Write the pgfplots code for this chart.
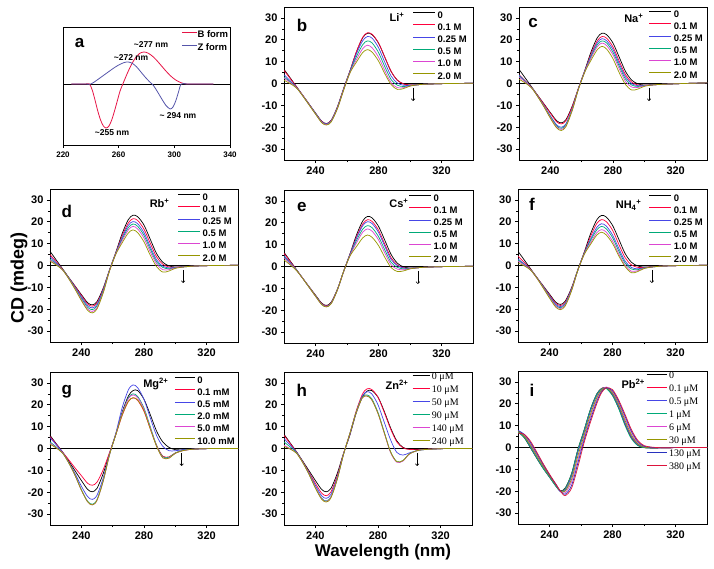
\documentclass[border=0pt]{standalone}
\usepackage{pgfplots}
\pgfplotsset{compat=1.18}
\usepackage{pgfplotstable}
\usepackage{fontspec}
\setmainfont{Liberation Sans}
\newfontfamily\seriffont{Liberation Serif}
\usetikzlibrary{arrows.meta}

\definecolor{cK}{RGB}{0,0,0}
\definecolor{cR}{RGB}{255,0,60}
\definecolor{cB}{RGB}{70,70,230}
\definecolor{cG}{RGB}{0,170,120}
\definecolor{cM}{RGB}{220,70,210}
\definecolor{cO}{RGB}{150,150,0}
\definecolor{cN}{RGB}{40,50,190}
\definecolor{cC}{RGB}{220,20,60}
\definecolor{aR}{RGB}{230,20,70}
\definecolor{aB}{RGB}{85,85,170}

\pgfplotstableread{
x    c0    c1    c2    c3    c4    c5
220  6.5   6.0   4.0   3.0   2.5   1.5
224  2.5   2.2   1.2   0.7   0.4  -0.1
228 -1.5  -1.6  -1.8  -1.9  -2.0  -2.1
232 -5.5  -5.5  -5.6  -5.7  -5.7  -5.8
236 -9.5  -9.5  -9.6  -9.7  -9.8  -9.9
240 -13.5 -13.6 -13.6 -13.8 -13.9 -14.0
244 -17.3 -17.4 -17.5 -17.7 -17.8 -18.0
247 -18.3 -18.4 -18.5 -18.7 -18.8 -19.0
250 -16.8 -16.9 -17.0 -17.2 -17.3 -17.5
254 -10.5 -10.6 -10.8 -11.0 -11.2 -11.4
258 -2.0  -2.0  -2.2  -2.4  -2.6  -2.8
262  6.0   6.0   5.8   5.5   5.2   5.0
266 14.5  14.6  13.6  12.3  11.0   9.8
270 21.0  21.2  19.6  17.8  16.0  14.2
273 23.0  23.2  21.5  19.5  17.5  15.5
276 22.3  22.5  20.7  18.5  16.3  14.3
280 18.5  18.6  16.4  14.2  12.1  10.3
284 12.0  12.1   9.7   7.7   5.9   4.5
288  5.5   5.6   3.4   1.8   0.4  -0.5
292  1.5   1.5   0.2  -0.8  -1.9  -2.7
296 -0.2  -0.2  -0.8  -1.4  -1.9  -2.3
300 -0.7  -0.7  -0.85 -1.0  -1.1  -1.2
306 -0.5  -0.5  -0.5  -0.5  -0.5  -0.5
314 -0.2  -0.2  -0.2  -0.2  -0.2  -0.2
325  0.0   0.0   0.0   0.0   0.0   0.0
340  0.1   0.1   0.1   0.1   0.1   0.1
}\tabB

\pgfplotstableread{
x    c0    c1    c2    c3    c4    c5
220  6.5   4.0   3.8   3.5   3.0   2.0
224  2.5   1.2   1.1   0.9   0.7   0.2
228 -1.5  -1.8  -1.8  -1.9  -1.9  -2.0
232 -5.5  -5.5  -5.8  -5.9  -6.0  -6.1
236 -9.4  -9.6 -10.2 -10.4 -10.6 -10.8
240 -13.3 -13.6 -14.8 -15.1 -15.5 -15.9
244 -17.0 -17.5 -18.9 -19.4 -19.9 -20.3
247 -18.0 -18.5 -20.0 -20.5 -21.0 -21.5
250 -16.5 -17.0 -18.4 -18.8 -19.3 -19.7
254 -10.3 -10.6 -11.5 -11.8 -12.1 -12.3
258 -2.0  -2.0  -2.2  -2.3  -2.4  -2.5
262  6.0   5.8   5.7   5.5   5.4   5.2
266 14.5  13.6  12.9  12.3  11.7  10.7
270 21.0  19.6  18.7  17.8  16.9  15.5
273 23.0  21.5  20.5  19.5  18.5  17.0
276 22.3  20.7  19.5  18.5  17.3  15.7
280 18.5  16.7  15.5  14.3  13.1  11.3
284 12.0  10.2   9.0   7.9   6.7   4.9
288  5.5   4.0   3.0   2.0   0.9  -0.5
292  1.5   0.6  -0.1  -0.75 -1.65 -3.0
296 -0.2  -0.7  -1.0  -1.35 -1.8  -2.5
300 -0.7  -0.8  -0.9  -1.0  -1.1  -1.3
306 -0.5  -0.6  -0.6  -0.6  -0.6  -0.6
314 -0.3  -0.3  -0.3  -0.3  -0.3  -0.3
325  0.0   0.0   0.0   0.0   0.0   0.0
340  0.3   0.3   0.3   0.3   0.3   0.3
}\tabC

\pgfplotstableread{
x    c0    c1    c2    c3    c4    c5
220  6.5   5.0   4.0   3.0   2.5   2.0
224  2.5   1.7   1.2   0.7   0.4   0.2
228 -1.5  -1.7  -1.8  -1.9  -2.0  -2.0
232 -5.5  -5.6  -5.7  -5.8  -6.0  -6.1
236 -9.4  -9.6 -10.0 -10.3 -10.6 -10.9
240 -13.3 -13.7 -14.3 -14.9 -15.5 -16.0
244 -17.0 -17.6 -18.3 -19.1 -19.9 -20.5
247 -18.0 -18.6 -19.4 -20.2 -21.0 -21.7
250 -16.5 -17.1 -17.8 -18.5 -19.3 -19.9
254 -10.3 -10.7 -11.1 -11.6 -12.1 -12.5
258 -2.0  -2.0  -2.1  -2.2  -2.4  -2.5
262  6.0   5.8   5.6   5.5   5.3   5.1
266 14.5  13.5  12.7  12.0  11.3  10.3
270 21.0  19.5  18.4  17.3  16.3  14.9
273 23.0  21.4  20.1  19.0  17.9  16.3
276 22.3  20.6  19.1  17.9  16.7  15.0
280 18.5  16.6  15.0  13.8  12.5  10.8
284 12.0  10.2   8.6   7.5   6.2   4.7
288  5.5   4.0   2.6   1.7   0.8  -0.5
292  1.5   0.6  -0.3  -0.9  -1.9  -3.0
296 -0.2  -0.7  -1.1  -1.5  -1.9  -2.5
300 -0.7  -0.8  -0.9  -1.0  -1.1  -1.3
306 -0.5  -0.5  -0.5  -0.6  -0.6  -0.6
314 -0.2  -0.2  -0.2  -0.2  -0.2  -0.2
325  0.0   0.0   0.0   0.0   0.0   0.0
340  0.1   0.1   0.1   0.1   0.1   0.1
}\tabD

\pgfplotstableread{
x    c0    c1    c2    c3    c4    c5
220  6.5   6.0   5.0   4.5   4.0   3.0
224  2.5   2.2   1.7   1.4   1.2   0.7
228 -1.5  -1.6  -1.7  -1.7  -1.8  -1.9
232 -5.5  -5.5  -5.5  -5.5  -5.5  -5.6
236 -9.3  -9.4  -9.5  -9.5  -9.5  -9.6
240 -13.1 -13.3 -13.4 -13.5 -13.6 -13.6
244 -16.8 -17.0 -17.2 -17.3 -17.4 -17.5
247 -17.8 -18.0 -18.2 -18.3 -18.4 -18.5
250 -16.3 -16.5 -16.7 -16.8 -16.9 -17.0
254 -10.2 -10.3 -10.4 -10.5 -10.6 -10.6
258 -1.9  -2.0  -2.0  -2.0  -2.0  -2.0
262  6.0   5.8   5.7   5.4   5.2   4.9
266 14.4  13.5  12.9  11.8  10.8   9.1
270 20.9  19.5  18.7  17.1  15.7  13.1
273 22.9  21.4  20.5  18.7  17.2  14.4
276 22.2  20.6  19.6  17.7  16.1  13.3
280 18.4  16.6  15.6  13.7  12.2   9.6
284 12.0  10.2   9.3   7.6   6.2   4.2
288  5.5   4.0   3.2   1.9   0.8  -0.5
292  1.5   0.7   0.4  -0.4  -1.2  -2.3
296 -0.2  -0.6  -0.7  -1.1  -1.5  -2.0
300 -0.7  -0.8  -0.8  -0.9  -1.0  -1.1
306 -0.5  -0.5  -0.5  -0.5  -0.5  -0.5
314 -0.2  -0.2  -0.2  -0.2  -0.2  -0.2
325  0.0   0.0   0.0   0.0   0.0   0.0
340  0.1   0.1   0.1   0.1   0.1   0.1
}\tabE

\pgfplotstableread{
x    c0    c1    c2    c3    c4    c5
220  6.5   4.3   3.0   2.5   2.0   1.2
224  2.5   1.4   0.7   0.4   0.2  -0.2
228 -1.5  -1.8  -1.9  -2.0  -2.0  -2.1
232 -5.5  -5.5  -5.6  -5.7  -5.8  -5.8
236 -9.3  -9.5  -9.7  -9.9 -10.1 -10.3
240 -13.1 -13.5 -13.9 -14.2 -14.5 -14.9
244 -16.8 -17.3 -17.8 -18.3 -18.6 -19.1
247 -17.8 -18.3 -18.8 -19.3 -19.7 -20.2
250 -16.3 -16.8 -17.3 -17.7 -18.1 -18.5
254 -10.2 -10.5 -10.8 -11.1 -11.3 -11.6
258 -1.9  -2.0  -2.1  -2.1  -2.2  -2.2
262  6.0   5.7   5.5   5.3   5.1   5.0
266 14.4  13.2  12.0  11.3  10.3   9.6
270 20.9  19.2  17.4  16.3  15.0  13.9
273 22.9  21.0  19.1  17.9  16.4  15.2
276 22.2  20.1  18.1  16.8  15.3  14.0
280 18.4  16.2  14.0  12.8  11.2  10.1
284 12.0   9.7   7.8   6.6   5.3   4.4
288  5.5   3.6   2.0   1.1   0.1  -0.5
292  1.5   0.3  -0.9  -1.6  -2.6  -3.3
296 -0.2  -0.85 -1.5  -1.9  -2.4  -2.8
300 -0.7  -0.9  -1.05 -1.15 -1.3  -1.4
306 -0.5  -0.5  -0.6  -0.6  -0.6  -0.6
314 -0.2  -0.2  -0.2  -0.2  -0.2  -0.2
325  0.0   0.0   0.0   0.0   0.0   0.0
340  0.1   0.1   0.1   0.1   0.1   0.1
}\tabF

\pgfplotstableread{
x    c0    c1    c2    c3    c4    c5
220  6.0   5.5   5.0   3.0   2.5   2.0
224  2.2   2.0   1.7   0.7   0.4   0.2
228 -1.6  -1.6  -1.7  -2.0  -2.0  -2.1
232 -5.8  -5.2  -6.3  -6.6  -6.6  -6.6
236 -10.2 -8.9 -11.5 -12.2 -12.3 -12.3
240 -14.6 -12.4 -17.2 -18.8 -19.0 -19.0
244 -18.7 -15.9 -22.0 -24.1 -24.4 -24.4
247 -19.8 -16.8 -23.3 -25.5 -25.8 -25.8
250 -18.2 -15.4 -21.4 -23.4 -23.7 -23.7
254 -11.4 -9.6 -13.4 -14.6 -14.8 -14.8
258 -2.2  -1.8  -2.5  -2.8  -2.8  -2.8
262  6.5   6.3   7.0   6.5   6.5   6.3
266 16.5  15.0  18.5  16.0  15.8  15.2
270 24.0  21.5  26.8  23.2  22.8  21.6
273 26.5  23.2  29.1  25.0  24.5  23.2
276 26.5  22.0  27.8  23.8  23.2  22.2
280 22.5  17.0  22.5  18.5  18.0  17.3
284 15.5   9.0  14.0  10.0   9.5   9.0
288  8.0   1.5   6.0   1.5   1.2   1.0
292  3.0  -3.5   1.0  -3.8  -4.2  -4.3
296  0.5  -3.8  -1.0  -4.0  -4.3  -4.4
300 -0.5  -2.0  -1.0  -2.0  -2.2  -2.2
306 -0.6  -0.7  -0.5  -0.7  -0.8  -0.8
314 -0.2  -0.2  -0.2  -0.2  -0.2  -0.2
325  0.0   0.0   0.0   0.0   0.0   0.0
340  0.0   0.0   0.0   0.0   0.0   0.0
}\tabG

\pgfplotstableread{
x    c0    c1    c2    c3    c4    c5
220  6.5   6.0   4.5   3.0   1.5   1.0
224  2.5   2.2   1.5   0.7  -0.1  -0.3
228 -1.5  -1.6  -1.7  -1.9  -2.1  -2.2
232 -5.8  -6.1  -6.2  -6.4  -6.4  -6.5
236 -10.2 -10.9 -11.3 -11.7 -11.8 -11.9
240 -14.6 -15.9 -16.8 -17.7 -17.8 -18.1
244 -18.7 -20.4 -21.6 -22.7 -22.9 -23.2
247 -19.8 -21.6 -22.8 -24.0 -24.2 -24.5
250 -18.2 -19.8 -20.9 -22.0 -22.2 -22.5
254 -11.4 -12.4 -13.1 -13.8 -13.9 -14.1
258 -2.2  -2.4  -2.5  -2.6  -2.6  -2.7
262  6.0   6.5   6.5   6.8   6.8   6.8
266 16.0  17.0  16.5  16.5  16.3  16.3
270 23.5  24.8  24.0  23.5  23.2  23.2
273 26.3  27.3  26.0  24.5  24.0  24.0
276 26.5  27.0  25.0  22.8  22.3  22.3
280 23.5  23.5  20.0  16.5  16.0  16.0
284 17.0  16.5  12.0   7.5   7.0   7.2
288  9.5   9.0   4.0  -1.5  -1.8  -1.5
292  3.5   3.0  -1.8  -6.0  -6.3  -6.0
296  0.5   0.3  -3.0  -5.5  -5.7  -5.5
300 -0.3  -0.4  -2.0  -2.5  -2.6  -2.5
306 -0.5  -0.5  -0.8  -0.8  -0.8  -0.8
314 -0.2  -0.2  -0.3  -0.3  -0.3  -0.3
325  0.0   0.0   0.0   0.0   0.0   0.0
340  0.0   0.0   0.0   0.0   0.0   0.0
}\tabH

\pgfplotstableread{
x    c0    c1    c2    c3    c4    c5    c6    c7
220  7.5   7.3   7.0   7.0   7.8   7.5   7.8   6.5
224  4.5   4.7   5.0   4.5   5.6   5.2   6.0   6.0
228 -0.2   0.0   0.4  -0.2   1.6   1.0   2.2   2.8
232 -5.0  -4.9  -4.6  -5.0  -3.5  -3.9  -2.8  -2.2
236 -9.5  -9.4  -9.3  -9.6  -8.3  -8.7  -7.8  -7.4
240 -13.5 -13.5 -13.4 -13.6 -12.7 -12.9 -12.5 -12.2
244 -17.5 -17.5 -17.5 -17.7 -16.7 -17.1 -16.8 -16.7
247 -19.8 -20.0 -20.3 -20.0 -20.1 -20.1 -20.1 -20.0
250 -18.5 -18.9 -19.5 -18.7 -20.7 -19.9 -21.4 -22.0
254 -12.0 -12.6 -13.3 -12.1 -15.7 -14.5 -17.4 -18.6
258 -1.0  -1.5  -2.3  -1.0  -5.5  -3.9  -7.1  -8.9
262  8.0   7.5   6.9   8.0   4.6   5.7   3.5   2.3
266 17.5  17.1  16.5  17.5  14.0  15.2  12.8  11.6
270 24.5  24.2  23.8  24.4  22.0  22.8  21.0  20.0
273 27.0  26.9  26.7  26.8  26.0  26.3  25.5  25.0
276 27.3  27.5  27.5  27.0  27.7  27.3  27.3  27.3
280 24.0  24.3  24.6  23.7  25.6  25.0  26.0  26.5
284 18.0  18.3  18.8  17.6  20.3  19.6  21.0  21.6
288 10.5  10.8  11.3  10.0  13.3  12.3  14.3  15.1
292  4.5   4.7   5.1   4.0   6.8   5.8   7.5   8.2
296  1.2   1.3   1.5   0.9   2.3   1.8   2.8   3.3
300  0.0   0.0   0.1  -0.1   0.4   0.2   0.6   0.9
306 -0.2  -0.2  -0.2  -0.2   0.0  -0.1   0.0   0.1
314 -0.1  -0.1  -0.1  -0.1  -0.1  -0.1  -0.1  -0.1
325  0.0   0.0   0.0   0.0   0.0   0.0   0.0   0.0
340  0.0   0.0   0.0   0.0   0.0   0.0   0.0   0.0
}\tabI

\pgfplotsset{
  panel/.style={
    scale only axis, width=189pt, height=153pt, anchor=north west,
    xmin=220, xmax=340, ymin=-35, ymax=35,
    xtick={240,280,320}, minor xtick={260,300},
    ytick={-30,-20,...,30}, minor ytick={-25,-15,...,25},
    tick align=outside, tick pos=left,
    major tick length=3pt, minor tick length=2pt,
    every tick/.style={black, line width=0.6pt},
    axis line style={line width=0.8pt},
    tick label style={font=\bfseries\fontsize{11}{13}\selectfont},
    /pgf/number format/assume math mode=true,
    legend cell align=left,
    legend image code/.code={\draw[##1] (0pt,2.5pt) -- (22pt,2.5pt);},
    legend style={draw=none, fill=none, anchor=north east, inner sep=0pt,
      font=\bfseries\fontsize{9.5}{11}\selectfont, row sep=4.2pt,
      nodes={inner sep=0pt, text height=7pt, text depth=1pt},
      /tikz/every odd column/.append style={column sep=2pt}},
    every axis plot/.append style={line width=0.7pt, smooth},
  },
  serifleg/.style={
    legend style={font=\seriffont\fontsize{10}{12}\selectfont, row sep=4pt,
      nodes={inner sep=0pt, text height=7pt, text depth=2pt}},
  },
}

\newcommand\zeroline{\addplot[black, line width=0.9pt, forget plot, sharp plot] coordinates {(220,0) (340,0)};}
\newcommand\sixplots[1]{%
\addplot[cK] table[x=x,y=c0]{#1};
\addplot[cR] table[x=x,y=c1]{#1};
\addplot[cB] table[x=x,y=c2]{#1};
\addplot[cG] table[x=x,y=c3]{#1};
\addplot[cM] table[x=x,y=c4]{#1};
\addplot[cO] table[x=x,y=c5]{#1};
}
\newcommand\cdarrow[1]{\draw[-{To[length=2.5pt,width=4pt]}, line width=0.6pt] (axis cs:#1,-2) -- (axis cs:#1,-8);}
\newcommand\ionfont{\bfseries\fontsize{11}{13}\selectfont}
\newcommand\letfont{\bfseries\fontsize{17}{20}\selectfont}

\begin{document}
\begin{tikzpicture}
\useasboundingbox (0,0) rectangle (714pt,-568pt);

% panel a
\begin{axis}[scale only axis, width=167pt, height=118pt, anchor=north west, at={(63pt,-27pt)},
  xmin=220, xmax=340, ymin=-61, ymax=57, xtick={220,260,300,340}, ytick=\empty,
  tick align=outside, tick pos=left, major tick length=3pt,
  every tick/.style={black, line width=0.6pt}, axis line style={line width=0.8pt},
  tick label style={font=\bfseries\fontsize{8}{10}\selectfont},
  /pgf/number format/assume math mode=true,
  legend cell align=left,
  legend image code/.code={\draw[#1] (0pt,2.5pt) -- (15pt,2.5pt);},
  legend style={draw=none, fill=none, anchor=north east, at={(0.99,0.97)}, inner sep=0pt,
    font=\bfseries\fontsize{9.5}{11}\selectfont, row sep=4pt,
    nodes={inner sep=0pt, text height=7pt, text depth=2pt}},
  every axis plot/.append style={line width=0.8pt}]
\addplot[black, line width=0.9pt, forget plot] coordinates {(220,0) (340,0)};
\addplot[aR, smooth] coordinates {(226,0)(236,0)(239,0)(241,-6)(243,-16)(245,-27)(247,-36)(249,-42)(251,-44)(253,-42)(255,-36)(257,-27)(259,-17)(261,-7)(263,0)(266,10)(269,19)(272,26)(275,30.5)(278,32)(281,31)(285,27)(289,21)(293,14.5)(297,8.5)(301,4)(305,1.2)(309,0)(315,0)(328,0)};
\addplot[aB, smooth] coordinates {(226,0)(236,0)(240,0)(244,3.5)(248,7.5)(252,11.5)(256,15.5)(260,19)(264,21.5)(267,22)(270,20.5)(273,17)(276,12)(279,7)(282,2.5)(285,-1.5)(288,-8)(291,-15)(294,-21.5)(297,-25)(299,-23)(301,-17)(303,-8)(305,0)(310,0)(328,0)};
\legend{B form, Z form}
\node[font=\letfont] at (axis cs:232,41) {a};
\node[font=\bfseries\fontsize{8.5}{10}\selectfont] at (axis cs:283.2,39) {\textasciitilde277 nm};
\node[font=\bfseries\fontsize{8.5}{10}\selectfont] at (axis cs:268.9,26) {\textasciitilde272 nm};
\node[font=\bfseries\fontsize{8.5}{10}\selectfont] at (axis cs:302.6,-32) {\textasciitilde\ 294 nm};
\node[font=\bfseries\fontsize{8.5}{10}\selectfont] at (axis cs:255.2,-49) {\textasciitilde255 nm};
\end{axis}

% panel b
\begin{axis}[panel, at={(284pt,-7pt)}, legend style={at={(0.968,0.975)}}]
\zeroline
\sixplots{\tabB}
\legend{0, 0.1 M, 0.25 M, 0.5 M, 1.0 M, 2.0 M}
\cdarrow{302}
\node[anchor=east, font=\ionfont] at (rel axis cs:0.656,0.935) {Li\textsuperscript{+}};
\node[font=\letfont] at (rel axis cs:0.095,0.882) {b};
\end{axis}

% panel c
\begin{axis}[panel, at={(519pt,-7pt)}, width=188pt, legend style={at={(0.979,0.981)}}]
\zeroline
\sixplots{\tabC}
\legend{0, 0.1 M, 0.25 M, 0.5 M, 1.0 M, 2.0 M}
\cdarrow{303}
\node[anchor=east, font=\ionfont] at (rel axis cs:0.68,0.928) {Na\textsuperscript{+}};
\node[font=\letfont] at (rel axis cs:0.075,0.895) {c};
\end{axis}

% panel d
\begin{axis}[panel, at={(50pt,-189pt)}, width=188pt, legend style={at={(0.968,0.975)}}]
\zeroline
\sixplots{\tabD}
\legend{0, 0.1 M, 0.25 M, 0.5 M, 1.0 M, 2.0 M}
\cdarrow{305}
\node[anchor=east, font=\ionfont] at (rel axis cs:0.654,0.908) {Rb\textsuperscript{+}};
\node[font=\letfont] at (rel axis cs:0.09,0.856) {d};
\end{axis}

% panel e
\begin{axis}[panel, at={(284pt,-190pt)}, legend style={at={(0.947,0.975)}}]
\zeroline
\sixplots{\tabE}
\legend{0, 0.1 M, 0.25 M, 0.5 M, 1.0 M, 2.0 M}
\cdarrow{305}
\node[anchor=east, font=\ionfont] at (rel axis cs:0.677,0.915) {Cs\textsuperscript{+}};
\node[font=\letfont] at (rel axis cs:0.095,0.889) {e};
\end{axis}

% panel f
\begin{axis}[panel, at={(518pt,-189pt)}, legend style={at={(0.979,0.968)}}]
\zeroline
\sixplots{\tabF}
\legend{0, 0.1 M, 0.25 M, 0.5 M, 1.0 M, 2.0 M}
\cdarrow{305}
\node[anchor=east, font=\ionfont] at (rel axis cs:0.672,0.895) {NH\textsubscript{4}\textsuperscript{+}};
\node[font=\letfont] at (rel axis cs:0.074,0.902) {f};
\end{axis}

% panel g
\begin{axis}[panel, at={(50pt,-372pt)}, width=188pt, legend style={at={(0.984,0.975)}},
  legend image code/.code={\draw[#1] (0pt,2.5pt) -- (20pt,2.5pt);}]
\zeroline
\sixplots{\tabG}
\legend{0, 0.1 mM, 0.5 mM, 2.0 mM, 5.0 mM, 10.0 mM}
\cdarrow{304}
\node[anchor=east, font=\ionfont] at (rel axis cs:0.649,0.92) {Mg\textsuperscript{2+}};
\node[font=\letfont] at (rel axis cs:0.09,0.869) {g};
\end{axis}

% panel h
\begin{axis}[panel, serifleg, at={(284pt,-372pt)}, width=188pt, legend style={at={(0.957,0.995)}},
  legend image code/.code={\draw[#1] (0pt,2.5pt) -- (17pt,2.5pt);}]
\zeroline
\sixplots{\tabH}
\legend{0 μM, 10 μM, 50 μM, 90 μM, 140 μM, 240 μM}
\cdarrow{305}
\node[anchor=east, font=\ionfont] at (rel axis cs:0.68,0.915) {Zn\textsuperscript{2+}};
\node[font=\letfont] at (rel axis cs:0.095,0.882) {h};
\end{axis}

% panel i
\begin{axis}[panel, serifleg, at={(518pt,-371pt)}, legend style={at={(0.968,0.995)}},
  legend image code/.code={\draw[#1] (0pt,2.5pt) -- (20pt,2.5pt);}]
\zeroline
\addplot[cK] table[x=x,y=c0]{\tabI};
\addplot[cR] table[x=x,y=c1]{\tabI};
\addplot[cB] table[x=x,y=c2]{\tabI};
\addplot[cG] table[x=x,y=c3]{\tabI};
\addplot[cM] table[x=x,y=c4]{\tabI};
\addplot[cO] table[x=x,y=c5]{\tabI};
\addplot[cN] table[x=x,y=c6]{\tabI};
\addplot[cC] table[x=x,y=c7]{\tabI};
\legend{0, 0.1 μM, 0.5 μM, 1 μM, 6 μM, 30 μM, 130 μM, 380 μM}
\node[anchor=east, font=\ionfont] at (rel axis cs:0.69,0.915) {Pb\textsuperscript{2+}};
\node[font=\letfont] at (rel axis cs:0.074,0.876) {i};
\end{axis}

\node[rotate=90, font=\bfseries\fontsize{18}{20}\selectfont] at (19pt,-278pt) {CD (mdeg)};
\node[font=\bfseries\fontsize{17}{20}\selectfont] at (383pt,-552pt) {Wavelength (nm)};
\end{tikzpicture}
\end{document}
